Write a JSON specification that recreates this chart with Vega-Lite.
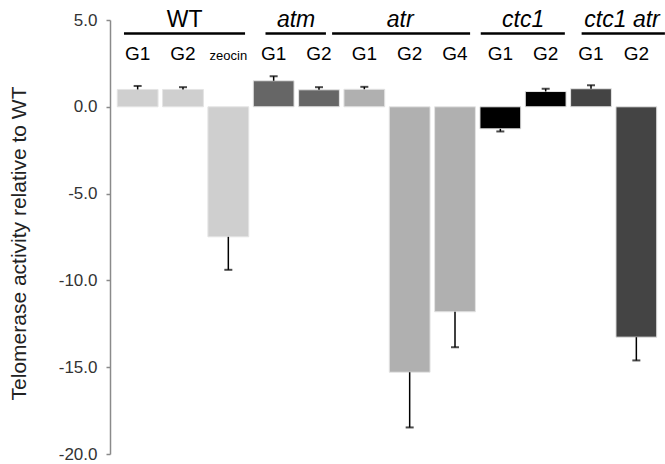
{
  "$schema": "https://vega.github.io/schema/vega-lite/v6.json",
  "width": 554,
  "height": 434,
  "autosize": "none",
  "padding": {"left": 110, "top": 20, "right": 1, "bottom": 10},
  "background": "white",
  "config": {"view": {"stroke": null}, "font": "Liberation Sans"},
  "datasets": {
    "bars": [
      {"bar": "WT G1", "group": "WT", "gen": "G1", "value": 1.0, "errEnd": 1.2},
      {"bar": "WT G2", "group": "WT", "gen": "G2", "value": 1.0, "errEnd": 1.13},
      {"bar": "WT zeocin", "group": "WT", "gen": "zeocin", "value": -7.49, "errEnd": -9.39},
      {"bar": "atm G1", "group": "atm", "gen": "G1", "value": 1.5, "errEnd": 1.76},
      {"bar": "atm G2", "group": "atm", "gen": "G2", "value": 0.98, "errEnd": 1.13},
      {"bar": "atr G1", "group": "atr", "gen": "G1", "value": 1.01, "errEnd": 1.15},
      {"bar": "atr G2", "group": "atr", "gen": "G2", "value": -15.29, "errEnd": -18.47},
      {"bar": "atr G4", "group": "atr", "gen": "G4", "value": -11.81, "errEnd": -13.85},
      {"bar": "ctc1 G1", "group": "ctc1", "gen": "G1", "value": -1.27, "errEnd": -1.42},
      {"bar": "ctc1 G2", "group": "ctc1", "gen": "G2", "value": 0.88, "errEnd": 1.04},
      {"bar": "ctc1 atr G1", "group": "ctc1 atr", "gen": "G1", "value": 1.04, "errEnd": 1.24},
      {"bar": "ctc1 atr G2", "group": "ctc1 atr", "gen": "G2", "value": -13.27, "errEnd": -14.61}
    ],
    "groups": [
      {"group": "WT", "first": "WT G1", "last": "WT zeocin"},
      {"group": "atm", "first": "atm G1", "last": "atm G2"},
      {"group": "atr", "first": "atr G1", "last": "atr G4"},
      {"group": "ctc1", "first": "ctc1 G1", "last": "ctc1 G2"},
      {"group": "ctc1 atr", "first": "ctc1 atr G1", "last": "ctc1 atr G2"}
    ]
  },
  "layer": [
    {
      "data": {"name": "bars"},
      "mark": {"type": "bar", "stroke": "#e4e4e4", "strokeWidth": 1},
      "encoding": {
        "x": {"field": "bar", "type": "nominal", "sort": null, "axis": null,
              "scale": {"paddingInner": 0.1, "paddingOuter": 0.16}},
        "y": {"field": "value", "type": "quantitative",
              "scale": {"domain": [-20, 5], "nice": false, "zero": false},
              "axis": {"values": [5, 0, -5, -10, -15, -20], "grid": false,
                       "labelExpr": "replace(format(datum.value, '.1f'), '\u2212', '-')",
                       "domainColor": "#8a8a8a", "domainWidth": 1.5, "tickColor": "#8a8a8a", "tickWidth": 1.5,
                       "tickSize": 4, "labelPadding": 9, "labelFontSize": 17, "labelColor": "#333333",
                       "labelFont": "Liberation Sans",
                       "title": "Telomerase activity relative to WT", "titleFontSize": 21,
                       "titleFontWeight": "normal", "titleColor": "#222222", "titleFont": "Liberation Sans",
                       "titleX": -85, "titleY": 223, "titleAngle": -90, "titleBaseline": "alphabetic", "titleAlign": "center"}},
        "color": {"field": "group", "type": "nominal", "legend": null,
                  "scale": {"domain": ["WT", "atm", "atr", "ctc1", "ctc1 atr"],
                            "range": ["#cfcfcf", "#666666", "#b0b0b0", "#000000", "#444444"]}}
      }
    },
    {
      "data": {"name": "bars"},
      "mark": {"type": "rule", "color": "#000000", "strokeWidth": 1.5},
      "encoding": {
        "x": {"field": "bar", "type": "nominal", "sort": null},
        "y": {"field": "value", "type": "quantitative"},
        "y2": {"field": "errEnd"}
      }
    },
    {
      "data": {"name": "bars"},
      "mark": {"type": "tick", "color": "#000000", "thickness": 2, "size": 8},
      "encoding": {
        "x": {"field": "bar", "type": "nominal", "sort": null},
        "y": {"field": "errEnd", "type": "quantitative"}
      }
    },
    {
      "data": {"name": "bars"},
      "mark": {"type": "text", "baseline": "alphabetic", "align": "center", "color": "#000000", "font": "Liberation Sans", "fontWeight": "normal"},
      "encoding": {
        "x": {"field": "bar", "type": "nominal", "sort": null},
        "y": {"datum": 2.72},
        "text": {"field": "gen"},
        "size": {"condition": {"test": "datum.gen === 'zeocin'", "value": 13}, "value": 19}
      }
    },
    {
      "data": {"name": "groups"},
      "transform": [{"filter": "datum.group === 'WT'"}],
      "mark": {"type": "rule", "color": "#000000", "strokeWidth": 2.5},
      "encoding": {
        "x": {"field": "first", "type": "nominal", "bandPosition": 0.165},
        "x2": {"field": "last", "bandPosition": 0.91},
        "y": {"datum": 4.22}
      }
    },
    {
      "data": {"name": "groups"},
      "transform": [{"filter": "datum.group === 'atm'"}],
      "mark": {"type": "rule", "color": "#000000", "strokeWidth": 2.5},
      "encoding": {
        "x": {"field": "first", "type": "nominal", "bandPosition": 0.3},
        "x2": {"field": "last", "bandPosition": 0.67},
        "y": {"datum": 4.22}
      }
    },
    {
      "data": {"name": "groups"},
      "transform": [{"filter": "datum.group === 'atr'"}],
      "mark": {"type": "rule", "color": "#000000", "strokeWidth": 2.5},
      "encoding": {
        "x": {"field": "first", "type": "nominal", "bandPosition": -0.29},
        "x2": {"field": "last", "bandPosition": 0.87},
        "y": {"datum": 4.22}
      }
    },
    {
      "data": {"name": "groups"},
      "transform": [{"filter": "datum.group === 'ctc1'"}],
      "mark": {"type": "rule", "color": "#000000", "strokeWidth": 2.5},
      "encoding": {
        "x": {"field": "first", "type": "nominal", "bandPosition": 0.02},
        "x2": {"field": "last", "bandPosition": 0.97},
        "y": {"datum": 4.22}
      }
    },
    {
      "data": {"name": "groups"},
      "transform": [{"filter": "datum.group === 'ctc1 atr'"}],
      "mark": {"type": "rule", "color": "#000000", "strokeWidth": 2.5, "clip": false},
      "encoding": {
        "x": {"field": "first", "type": "nominal", "bandPosition": 0.27},
        "x2": {"field": "last", "bandPosition": 1.2},
        "y": {"datum": 4.22}
      }
    },
    {
      "data": {"name": "groups"},
      "transform": [{"filter": "datum.group === 'WT'"}],
      "mark": {"type": "text", "baseline": "alphabetic", "align": "center", "fontSize": 23, "fontWeight": "normal", "color": "#000000", "font": "Liberation Sans"},
      "encoding": {
        "x": {"field": "first", "type": "nominal", "bandPosition": 1.65},
        "y": {"datum": 4.61},
        "text": {"field": "group"}
      }
    },
    {
      "data": {"name": "groups"},
      "transform": [{"filter": "datum.group === 'atm'"}],
      "mark": {"type": "text", "baseline": "alphabetic", "align": "center", "fontSize": 23, "fontStyle": "italic", "fontWeight": "normal", "color": "#000000", "font": "Liberation Sans"},
      "encoding": {
        "x": {"field": "first", "type": "nominal", "bandPosition": 1.05},
        "y": {"datum": 4.61},
        "text": {"field": "group"}
      }
    },
    {
      "data": {"name": "groups"},
      "transform": [{"filter": "datum.group === 'atr'"}],
      "mark": {"type": "text", "baseline": "alphabetic", "align": "center", "fontSize": 23, "fontStyle": "italic", "fontWeight": "normal", "color": "#000000", "font": "Liberation Sans"},
      "encoding": {
        "x": {"field": "first", "type": "nominal", "bandPosition": 1.38},
        "y": {"datum": 4.61},
        "text": {"field": "group"}
      }
    },
    {
      "data": {"name": "groups"},
      "transform": [{"filter": "datum.group === 'ctc1'"}],
      "mark": {"type": "text", "baseline": "alphabetic", "align": "center", "fontSize": 23, "fontStyle": "italic", "fontWeight": "normal", "color": "#000000", "font": "Liberation Sans"},
      "encoding": {
        "x": {"field": "first", "type": "nominal", "bandPosition": 1.06},
        "y": {"datum": 4.61},
        "text": {"field": "group"}
      }
    },
    {
      "data": {"name": "groups"},
      "transform": [{"filter": "datum.group === 'ctc1 atr'"}],
      "mark": {"type": "text", "baseline": "alphabetic", "align": "center", "fontSize": 23, "fontStyle": "italic", "fontWeight": "normal", "color": "#000000", "font": "Liberation Sans"},
      "encoding": {
        "x": {"field": "first", "type": "nominal", "bandPosition": 1.26},
        "y": {"datum": 4.61},
        "text": {"field": "group"}
      }
    }
  ]
}
